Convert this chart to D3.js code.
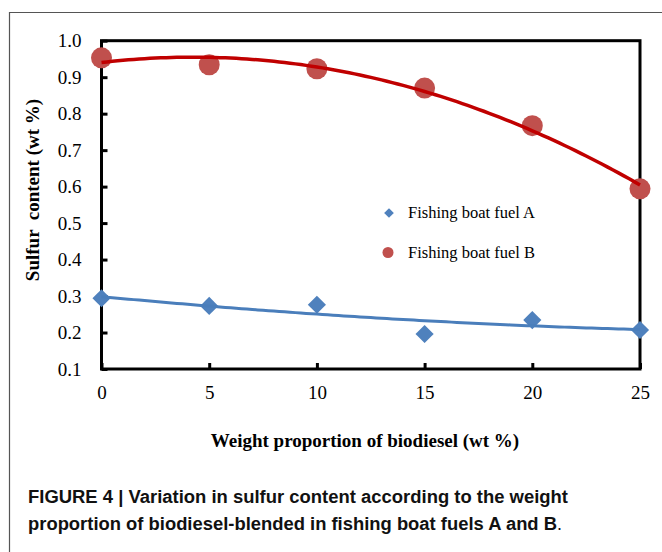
<!DOCTYPE html>
<html>
<head>
<meta charset="utf-8">
<script src="https://cdn.jsdelivr.net/npm/d3@7"></script>
<style>
  html, body { margin: 0; padding: 0; background: #fff; }
  svg { display: block; }
  .tick text { font-family: "Liberation Serif", "Times New Roman", serif; font-size: 19px; fill: #000; }
</style>
</head>
<body>
<svg id="chart" width="662" height="552"></svg>
<script>
// weight proportion of biodiesel (wt %)
const xValues = [0, 5, 10, 15, 20, 25]
// sulfur content (wt %)
const fuelA = [0.294, 0.273, 0.276, 0.196, 0.234, 0.207]
const fuelB = [0.953, 0.934, 0.923, 0.870, 0.767, 0.594]
const seriesNames = ['Fishing boat fuel A', 'Fishing boat fuel B']
const xTicks = [0, 5, 10, 15, 20, 25]
const yTicks = [0.1, 0.2, 0.3, 0.4, 0.5, 0.6, 0.7, 0.8, 0.9, 1.0]
const captionLines = [
  'FIGURE 4 | Variation in sulfur content according to the weight',
  'proportion of biodiesel-blended in fishing boat fuels A and B'
]

const colA = '#4f81bd'
const colB = '#c0504d'
const lineA = '#4a7ebb'
const lineB = '#c00000'

const svg = d3.select('#chart')

// outer figure border (open to the right / bottom, as in the page crop)
svg.append('path')
  .attr('d', 'M9.5,560 V12.5 H670')
  .attr('fill', 'none')
  .attr('stroke', '#555')
  .attr('stroke-width', 1.2)

const x = d3.scaleLinear().domain([0, 25]).range([101.5, 640])
const y = d3.scaleLinear().domain([0.1, 1.0]).range([369, 40.7])

// least squares quadratic trendline (same as Excel polynomial order 2)
function polyFit2(xs, ys) {
  let s = [0, 0, 0, 0, 0], t = [0, 0, 0]
  xs.forEach((xi, i) => {
    for (let k = 0; k < 5; k++) s[k] += Math.pow(xi, k)
    for (let k = 0; k < 3; k++) t[k] += Math.pow(xi, k) * ys[i]
  })
  // solve 3x3 by Cramer
  const m = [[s[0], s[1], s[2]], [s[1], s[2], s[3]], [s[2], s[3], s[4]]]
  const det = a => a[0][0] * (a[1][1] * a[2][2] - a[1][2] * a[2][1])
    - a[0][1] * (a[1][0] * a[2][2] - a[1][2] * a[2][0])
    + a[0][2] * (a[1][0] * a[2][1] - a[1][1] * a[2][0])
  const D = det(m)
  const coef = [0, 1, 2].map(c => {
    const mc = m.map((row, r) => row.map((v, j) => j === c ? t[r] : v))
    return det(mc) / D
  })
  return xv => coef[0] + coef[1] * xv + coef[2] * xv * xv
}

const fitA = polyFit2(xValues, fuelA)
const fitB = polyFit2(xValues, fuelB)
const fitXs = d3.range(0, 25.001, 0.25)

// axes, ticks pointing inward
const yAxis = d3.axisLeft(y).tickValues(yTicks).tickFormat(d3.format('.1f'))
  .tickSizeInner(-6).tickSizeOuter(0).tickPadding(20)
const xAxis = d3.axisBottom(x).tickValues(xTicks).tickFormat(d3.format('d'))
  .tickSizeInner(-6).tickSizeOuter(0).tickPadding(17)

const gy = svg.append('g').attr('transform', `translate(${x(0)},0)`).call(yAxis)
const gx = svg.append('g').attr('transform', `translate(0,${y(0.1)})`).call(xAxis)
gy.select('.domain').remove()
gx.select('.domain').remove()
svg.selectAll('.tick line').attr('stroke', '#000').attr('stroke-width', 3)

// plot frame
svg.append('rect')
  .attr('x', x(0)).attr('y', y(1.0))
  .attr('width', x(25) - x(0)).attr('height', y(0.1) - y(1.0))
  .attr('fill', 'none').attr('stroke', '#000').attr('stroke-width', 3)

// markers
const diamond = d3.symbol().type(d3.symbolDiamond2).size(210)
svg.append('g').selectAll('path')
  .data(xValues.map((xv, i) => [xv, fuelA[i]]))
  .join('path')
  .attr('d', diamond)
  .attr('transform', d => `translate(${x(d[0])},${y(d[1])})`)
  .attr('fill', colA)

svg.append('g').selectAll('circle')
  .data(xValues.map((xv, i) => [xv, fuelB[i]]))
  .join('circle')
  .attr('cx', d => x(d[0])).attr('cy', d => y(d[1])).attr('r', 10.5)
  .attr('fill', colB)

// trendlines
const line = d3.line().x(d => x(d[0])).y(d => y(d[1]))
svg.append('path')
  .attr('d', line(fitXs.map(xv => [xv, fitA(xv)])))
  .attr('fill', 'none').attr('stroke', lineA).attr('stroke-width', 3)
svg.append('path')
  .attr('d', line(fitXs.map(xv => [xv, fitB(xv)])))
  .attr('fill', 'none').attr('stroke', lineB).attr('stroke-width', 3.5)

// legend
const legend = svg.append('g').attr('font-family', '"Liberation Serif", "Times New Roman", serif')
  .attr('font-size', 16.5)
legend.append('path')
  .attr('d', d3.symbol().type(d3.symbolDiamond2).size(60))
  .attr('transform', 'translate(389,213)').attr('fill', colA)
legend.append('circle').attr('cx', 388).attr('cy', 252.5).attr('r', 5.5).attr('fill', colB)
legend.append('text').attr('x', 408).attr('y', 218).text(seriesNames[0])
legend.append('text').attr('x', 408).attr('y', 258).text(seriesNames[1])

// axis titles
const titleFont = '"Liberation Serif", "Times New Roman", serif'
svg.append('text')
  .attr('transform', 'translate(39,190) rotate(-90)')
  .attr('text-anchor', 'middle')
  .attr('font-family', titleFont).attr('font-size', 19).attr('font-weight', 'bold')
  .attr('xml:space', 'preserve')
  .text('Sulfur  content (wt %)')
svg.append('text')
  .attr('x', 365).attr('y', 447)
  .attr('text-anchor', 'middle')
  .attr('font-family', titleFont).attr('font-size', 19).attr('font-weight', 'bold')
  .text('Weight proportion of biodiesel (wt %)')

// caption (condensed bold sans, stretched to the original line widths)
const cap = svg.append('g')
  .attr('font-family', '"Liberation Sans Narrow", "Arial Narrow", "Liberation Sans", sans-serif')
  .attr('font-size', 18).attr('font-weight', 'bold').attr('fill', '#111')
cap.append('text').attr('x', 28).attr('y', 503)
  .attr('textLength', 540).attr('lengthAdjust', 'spacingAndGlyphs')
  .text(captionLines[0])
const c2 = cap.append('text').attr('x', 28).attr('y', 530)
c2.append('tspan').attr('textLength', 529).attr('lengthAdjust', 'spacingAndGlyphs')
  .text(captionLines[1])
c2.append('tspan').attr('font-weight', 'normal').text('.')
</script>
</body>
</html>
